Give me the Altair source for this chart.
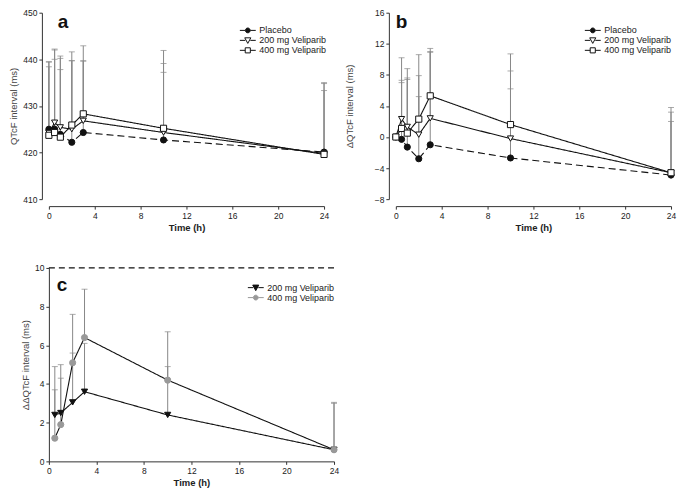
import altair as alt
import pandas as pd

# ---------------- data ----------------
series_ab = ["Placebo", "200 mg Veliparib", "400 mg Veliparib"]
times_ab = [0, 0.5, 1, 2, 3, 10, 24]

# panel a: QTcF interval (ms)
a_placebo = [425.0, 425.0, 423.9, 422.2, 424.3, 422.7, 420.1]
a_200 = [424.2, 426.4, 425.4, 425.0, 426.8, 424.3, 419.8]
a_400 = [423.7, 424.3, 423.3, 425.9, 428.3, 425.2, 419.6]
a_placebo_up = [439.5, 440.0, 437.8, 439.7, 439.6, 437.2, 435.0]
a_200_up = [439.4, 442.2, 440.2, 439.7, 439.7, 439.1, 433.3]
a_400_up = [438.4, 442.0, 440.7, 441.6, 442.9, 441.9, 434.8]

# panel b: change in QTcF interval (ms)
b_placebo = [0.0, -0.3, -1.3, -2.8, -1.0, -2.7, -4.9]
b_200 = [0.0, 2.3, 1.3, 0.3, 2.4, -0.2, -4.6]
b_400 = [0.0, 1.1, 0.5, 2.3, 5.3, 1.6, -4.6]
b_placebo_up = [None, 7.0, 7.4, 5.2, 10.9, 6.2, 2.0]
b_200_up = [None, 10.2, 7.6, 7.9, 11.0, 8.5, 3.2]
b_400_up = [None, 7.3, 8.8, 10.6, 11.4, 10.7, 3.8]

# panel c: placebo-corrected change
series_c = ["200 mg Veliparib", "400 mg Veliparib"]
times_c = [0.5, 1, 2, 3, 10, 24]
c_200 = [2.4, 2.5, 3.05, 3.6, 2.4, 0.6]
c_400 = [1.2, 1.9, 5.1, 6.4, 4.2, 0.6]
c_200_up = [4.9, 5.0, 5.6, 6.1, 4.9, 3.05]
c_400_up = [3.7, 4.3, 7.6, 8.9, 6.7, 3.0]
c_threshold = [10]

x_ticks = [0, 4, 8, 12, 16, 20, 24]
FONT = "Liberation Sans"


def long_df(times, names, means, uppers):
    rows = []
    for name, m, u in zip(names, means, uppers):
        for t, v, up in zip(times, m, u):
            rows.append({"time": t, "series": name, "value": v, "upper": up})
    return pd.DataFrame(rows)


def sym(core):
    # legend symbol: short line with the marker in the middle
    return "M-1,0H-0.32M0.32,0H1" + core


SQ = "M-0.32,-0.32H0.32V0.32H-0.32Z"
TRI = "M-0.38,-0.32H0.38L0,0.38Z"
CIRC = "M-0.3,0A0.3,0.3 0 1,0 0.3,0A0.3,0.3 0 1,0 -0.3,0Z"


def make_panel(df, names, ydomain, yticks, ytitle, letter, letter_xy,
               shapes, fills, strokes, dashes, leg_paths, err_colors,
               width, height, offset, ytitle_pad, legend_xy, threshold=None):
    base = alt.Chart(df)
    xscale = alt.Scale(domain=[0, 24], nice=False, zero=False)
    xaxis = alt.Axis(values=x_ticks, title="Time (h)", offset=offset,
                     titleFontWeight="bold", labelOverlap=False, labelFlush=False)
    yscale = alt.Scale(domain=ydomain, nice=False, zero=False)
    yaxis = alt.Axis(values=yticks, title=ytitle, offset=offset,
                     titlePadding=ytitle_pad, titleFontWeight="normal",
                     titleColor="#444", labelOverlap=False, labelFlush=False)
    x = alt.X("time:Q", scale=xscale, axis=xaxis)
    y = alt.Y("value:Q", scale=yscale, axis=yaxis)
    yup = alt.Y("upper:Q", scale=yscale, axis=yaxis)
    dom = names
    err_color = alt.Color("series:N", scale=alt.Scale(domain=dom, range=err_colors), legend=None)

    errdf = base.transform_filter("isValid(datum.upper)")
    rules = errdf.mark_rule(strokeWidth=1).encode(x=x, y=y, y2="upper:Q", color=err_color)
    caps = errdf.mark_tick(orient="horizontal", size=6, thickness=1).encode(
        x=x, y=yup, color=err_color)
    lines = base.mark_line(color="#111", strokeWidth=1.1).encode(
        x=x, y=y, detail="series:N",
        strokeDash=alt.StrokeDash("series:N", scale=alt.Scale(domain=dom, range=dashes), legend=None))
    pts = base.mark_point(filled=True, size=38, strokeWidth=1, opacity=1).encode(
        x=x, y=y,
        shape=alt.Shape("series:N", scale=alt.Scale(domain=dom, range=shapes), legend=None),
        fill=alt.Fill("series:N", scale=alt.Scale(domain=dom, range=fills), legend=None),
        stroke=alt.Stroke("series:N", scale=alt.Scale(domain=dom, range=strokes), legend=None))
    leg_kw = dict(orient="none", legendX=legend_xy[0], legendY=legend_xy[1], title=None,
                  labelFont=FONT, labelFontSize=9, labelColor="#222", symbolSize=256,
                  symbolStrokeWidth=1, symbolOpacity=1, rowPadding=0, labelOffset=3,
                  clipHeight=9.5)
    leg = base.transform_filter("false").mark_point(filled=True, strokeWidth=1).encode(
        x=x, y=y,
        shape=alt.Shape("series:N", scale=alt.Scale(domain=dom, range=leg_paths),
                        legend=alt.Legend(**leg_kw)),
        fill=alt.Fill("series:N", scale=alt.Scale(domain=dom, range=fills),
                      legend=alt.Legend(**leg_kw)),
        stroke=alt.Stroke("series:N", scale=alt.Scale(domain=dom, range=strokes),
                          legend=alt.Legend(**leg_kw)))
    lab = alt.Chart(pd.DataFrame({"lab": [letter]})).mark_text(
        font=FONT, fontSize=19, fontWeight="bold", align="left", baseline="top", color="#111"
    ).encode(text="lab:N", x=alt.value(letter_xy[0]), y=alt.value(letter_xy[1]))
    layers = [rules, caps]
    if threshold is not None:
        thr = alt.Chart(pd.DataFrame({"value": threshold})).mark_rule(
            color="#111", strokeDash=[6, 4], strokeWidth=1.2).encode(y=y)
        layers.append(thr)
    layers += [lines, pts, leg, lab]
    return alt.layer(*layers).resolve_scale(
        shape="independent", fill="independent", stroke="independent"
    ).properties(width=width, height=height)


df_a = long_df(times_ab, series_ab, [a_placebo, a_200, a_400], [a_placebo_up, a_200_up, a_400_up])
df_b = long_df(times_ab, series_ab, [b_placebo, b_200, b_400], [b_placebo_up, b_200_up, b_400_up])
df_c = long_df(times_c, series_c, [c_200, c_400], [c_200_up, c_400_up])

shapes_ab = ["circle", "triangle-down", "square"]
fills_ab = ["#111", "white", "white"]
strokes_ab = ["#111", "#111", "#111"]
dashes_ab = [[7, 4], [1, 0], [1, 0]]
leg_ab = [sym(CIRC), sym(TRI), sym(SQ)]
err_ab = ["#888", "#888", "#888"]

panel_a = make_panel(df_a, series_ab, [410, 450], [410, 420, 430, 440, 450], "QTcF interval (ms)",
                     "a", (9, 0), shapes_ab, fills_ab, strokes_ab, dashes_ab, leg_ab, err_ab,
                     276, 187, 7, 4, (191, 13))
panel_b = make_panel(df_b, series_ab, [-8, 16], [-8, -4, 0, 4, 8, 12, 16], "ΔQTcF interval (ms)",
                     "b", (0, 0), shapes_ab, fills_ab, strokes_ab, dashes_ab, leg_ab, err_ab,
                     276, 187, 7, 20, (189, 13))

panel_c = make_panel(df_c, series_c, [0, 10], [0, 2, 4, 6, 8, 10], "ΔΔQTcF interval (ms)",
                     "c", (8, 8), ["triangle-down", "circle"], ["#111", "#999"], ["#111", "#999"],
                     [[1, 0], [1, 0]], [sym(TRI), sym(CIRC)], ["#444", "#bbb"],
                     286, 194, 0, 4, (199, 15), threshold=c_threshold)

chart = alt.vconcat(
    alt.hconcat(panel_a, panel_b, spacing=14),
    panel_c,
    spacing=32,
).properties(padding=0).configure_view(stroke=None).configure_axis(
    grid=False, labelFont=FONT, titleFont=FONT, labelFontSize=8.5, titleFontSize=9.5,
    labelColor="#222", titleColor="#222", domainColor="#333", tickColor="#333",
    tickSize=3, labelPadding=2, titlePadding=3, domainWidth=1, labelOverlap=False
)

chart.save("out.html", embed_options={"renderer": "svg", "actions": False})
